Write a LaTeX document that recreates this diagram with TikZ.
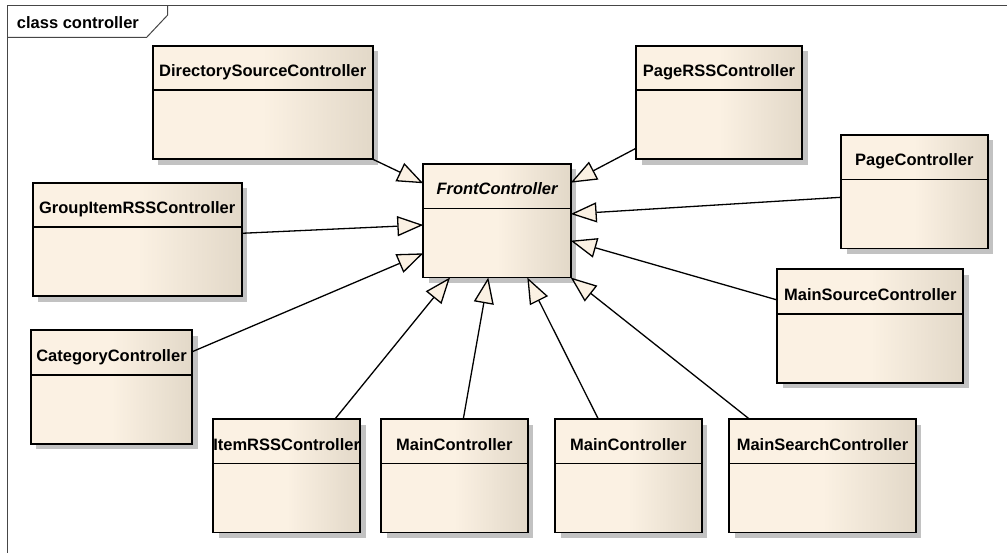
\documentclass[tikz,border=0pt]{standalone}
\usepackage{fontspec}
\setmainfont{Liberation Sans}
\usetikzlibrary{arrows.meta,calc,shadows}

\definecolor{classlight}{RGB}{251,241,227}
\definecolor{classdark}{RGB}{226,216,200}
\definecolor{framegray}{RGB}{70,70,70}

\tikzset{
  classbox/.style={draw=black, line width=1.8pt, rectangle, outer sep=0pt,
    inner sep=0pt, anchor=north west, minimum height=113.5pt,
    left color=classlight, right color=classdark, middle color=classlight,
    drop shadow={shadow xshift=5.5pt, shadow yshift=-5.5pt, fill=black!24, opacity=1}},
  classname/.style={anchor=base, font=\fontsize{16.5}{18}\selectfont\bfseries, inner sep=0pt},
  compartment/.style={line width=1.8pt},
  generalization/.style={line width=1.3pt,
    -{Triangle[length=26pt, width=20pt, fill=classlight, line width=1.3pt]}},
  frameline/.style={draw=framegray, line width=1pt},
}

% \umlclass{name}{left}{top}{width}{class name}
\newcommand\umlclass[5]{%
  \node[classbox, minimum width=#4pt] (#1) at (#2,#3) {};
  \draw[compartment] ($(#1.north west)+(0,44.5)$) -- ($(#1.north east)+(0,44.5)$);
  \node[classname] (#1-name) at ($(#1.north)+(0,31)$) {#5};
}

\begin{document}
\begin{tikzpicture}[x=1pt, y=-1pt]
  \useasboundingbox[fill=white] (0,0) rectangle (1007,553);

  % diagram frame with its name tab
  \draw[frameline] (7,553) -- (7,6) -- (1007,6);
  \draw[frameline] (7,37.3) -- (146.7,37.3) -- (167.7,15) -- (167.7,6);
  \node[anchor=base west, font=\fontsize{16.5}{18}\selectfont\bfseries, inner sep=0pt]
    (title) at (16.7,28.3) {class controller};

  % classes
  \umlclass{fc}{423.3}{164}{147.4}{\itshape FrontController}
  \umlclass{dsc}{152.7}{45.7}{220}{DirectorySourceController}
  \umlclass{prss}{636}{45.7}{166}{PageRSSController}
  \umlclass{pc}{841}{135}{146.7}{PageController}
  \umlclass{gir}{32.7}{182.7}{209}{GroupItemRSSController}
  \umlclass{msc}{777.3}{269.3}{186}{MainSourceController}
  \umlclass{cat}{30.7}{330.3}{161.6}{CategoryController}
  \umlclass{irss}{213.3}{419}{146.7}{ItemRSSController}
  \umlclass{mca}{381}{419}{146.7}{MainController}
  \umlclass{mcb}{555}{419}{146.7}{MainController}
  \umlclass{msearch}{729.3}{419}{186.4}{MainSearchController}

  % generalizations towards FrontController
  \draw[generalization] (dsc.south east) -- ($(fc.north west)+(0,19.3)$);
  \draw[generalization] ($(gir.north east)+(0,50.6)$) -- ($(fc.north west)+(0,61)$);
  \draw[generalization] ($(cat.north east)+(0,21.4)$) -- ($(fc.north west)+(0,89.3)$);
  \draw[generalization] ($(irss.north west)+(121.7,0)$) -- ($(fc.south west)+(26.7,0)$);
  \draw[generalization] ($(mca.north west)+(82.3,0)$) -- ($(fc.south west)+(65,0)$);
  \draw[generalization] ($(mcb.north west)+(43.3,0)$) -- ($(fc.south west)+(104,0)$);
  \draw[generalization] ($(msearch.north west)+(20,0)$) -- (fc.south east);
  \draw[generalization] ($(msc.north west)+(0,30.7)$) -- ($(fc.north east)+(0,76.7)$);
  \draw[generalization] ($(pc.north west)+(0,62.3)$) -- ($(fc.north east)+(0,50)$);
  \draw[generalization] ($(prss.north west)+(0,102.6)$) -- ($(fc.north east)+(0,18.7)$);
\end{tikzpicture}
\end{document}
